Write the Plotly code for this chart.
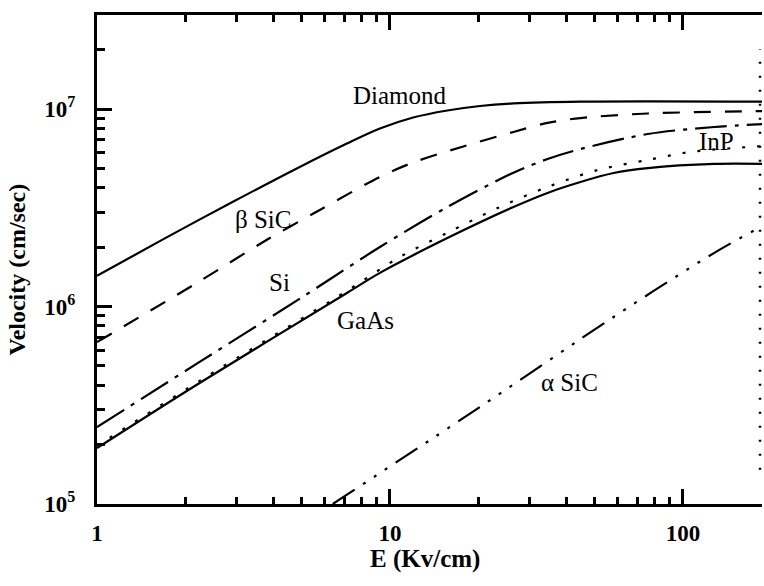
import plotly.graph_objects as go

# ---- data ----
E_diamond = [1.0, 1.71, 2.9, 4.92, 7.13, 9.24, 12.0, 15.7, 20.3, 26.4, 44.7, 191]
v_diamond = [1.43e6, 2.22e6, 3.38e6, 5.09e6, 6.69e6, 7.97e6, 9.06e6, 9.83e6, 1.036e7, 1.068e7, 1.09e7, 1.09e7]

E_bsic = [1.0, 2.18, 3.79, 5.76, 9.24, 12.0, 17.8, 26.4, 34.5, 44.7, 75.9, 191]
v_bsic = [6.6e5, 1.31e6, 2.17e6, 3.08e6, 4.53e6, 5.36e6, 6.46e6, 7.65e6, 8.5e6, 9.0e6, 9.49e6, 9.77e6]

E_si = [1.0, 2.24, 5.04, 9.24, 15.7, 26.4, 34.5, 44.7, 75.9, 128, 191]
v_si = [2.45e5, 5.24e5, 1.12e6, 2.0e6, 3.19e6, 4.76e6, 5.58e6, 6.27e6, 7.47e6, 8.11e6, 8.4e6]

E_gaas = [1.0, 2.24, 7.13, 9.24, 15.7, 26.4, 34.5, 44.7, 58.0, 75.9, 128, 191]
v_gaas = [1.92e5, 4.1e5, 1.17e6, 1.48e6, 2.22e6, 3.19e6, 3.76e6, 4.27e6, 4.74e6, 5.02e6, 5.27e6, 5.27e6]

E_inp = [1.0, 2.24, 7.13, 10.8, 15.7, 23.3, 34.5, 51.2, 75.9, 106, 191]
v_inp = [1.97e5, 4.2e5, 1.2e6, 1.78e6, 2.36e6, 3.15e6, 4.03e6, 4.91e6, 5.52e6, 6.06e6, 6.5e6]

E_asic = [6.38, 20.3, 58.0, 128, 191]
v_asic = [1.0e5, 3.1e5, 8.85e5, 1.87e6, 2.6e6]

label_names = ["Diamond", "\u03b2 SiC", "Si", "GaAs", "InP", "\u03b1 SiC"]
x_tickvals = [1, 10, 100]
x_ticktext = ["1", "10", "100"]
y_tickvals = [1e5, 1e6, 1e7]
y_ticktext = ["10<sup>5</sup>", "10<sup>6</sup>", "10<sup>7</sup>"]
x_title = "E (Kv/cm)"
y_title = "Velocity (cm/sec)"

# ---- styling / layout ----
SERIF = "Liberation Serif"
LW = 2.2

series = [
    (E_diamond, v_diamond, "solid"),
    (E_bsic, v_bsic, "17px,14px"),
    (E_si, v_si, "32px,8px,4px,8px"),
    (E_gaas, v_gaas, "solid"),
    (E_inp, v_inp, "3px,12px"),
    (E_asic, v_asic, "26px,10px,3px,10px,3px,10px,3px,10px"),
]

fig = go.Figure()
for xs, ys, dash in series:
    fig.add_trace(go.Scatter(
        x=xs, y=ys, mode="lines",
        line=dict(color="black", width=LW, dash=dash, shape="spline", smoothing=0.9),
        showlegend=False, hoverinfo="skip",
    ))

# label positions in log10 data units
label_pos = [(1.034, 7.066), (0.568, 6.443), (0.623, 6.124),
             (0.918, 5.927), (2.113, 6.833), (1.613, 5.613)]
for name, (lx, ly) in zip(label_names, label_pos):
    fig.add_annotation(x=lx, y=ly, xref="x", yref="y", text=name, showarrow=False,
                       xanchor="center", yanchor="middle",
                       font=dict(family=SERIF, size=25, color="black"))

# axis titles
fig.add_annotation(x=-0.12, y=0.48, xref="paper", yref="paper",
                   text=y_title, textangle=-90, showarrow=False,
                   xanchor="center", yanchor="middle",
                   font=dict(family=SERIF, size=24, color="black", weight="bold"))
fig.add_annotation(x=0.493, y=-0.113, xref="paper", yref="paper",
                   text=x_title, showarrow=False,
                   xanchor="center", yanchor="middle",
                   font=dict(family=SERIF, size=25, color="black", weight="bold"))

XR = [0, 2.270]
YR = [5, 7.476]

fig.update_layout(
    width=764, height=586,
    margin=dict(l=97, r=2, t=15, b=82),
    paper_bgcolor="white", plot_bgcolor="white",
    xaxis=dict(
        type="log", range=XR, tickvals=x_tickvals, ticktext=x_ticktext,
        ticks="inside", ticklen=15, tickwidth=2.5, tickcolor="black",
        showline=True, linewidth=3, linecolor="black", mirror="ticks",
        showgrid=False, zeroline=False,
        minor=dict(ticks="inside", ticklen=7, tickwidth=2.5, tickcolor="black",
                   dtick="D1", showgrid=False),
        tickfont=dict(family=SERIF, size=23, color="black", weight="bold"),
        ticklabelstandoff=6,
    ),
    yaxis=dict(
        type="log", range=YR, tickvals=y_tickvals, ticktext=y_ticktext,
        ticks="inside", ticklen=15, tickwidth=2.5, tickcolor="black",
        showline=True, linewidth=3, linecolor="black", mirror=False,
        showgrid=False, zeroline=False,
        minor=dict(ticks="inside", ticklen=8, tickwidth=2.5, tickcolor="black",
                   dtick="D1", showgrid=False),
        tickfont=dict(family=SERIF, size=23, color="black", weight="bold"),
        ticklabelstandoff=14,
    ),
    shapes=[
        # faint dotted right frame edge, as in the scanned original
        dict(type="line", xref="paper", yref="paper", x0=0.997, x1=0.997,
             y0=0.07, y1=0.93, line=dict(color="black", width=2.5, dash="2px,12px")),
        # single right-side tick visible at 10^6
        dict(type="line", xref="paper", yref="y", x0=0.978, x1=1.0,
             y0=6, y1=6, line=dict(color="black", width=2.5)),
    ],
)

fig.write_html("out.html", config={"displayModeBar": False},
               post_script="document.body.style.margin='0';")
